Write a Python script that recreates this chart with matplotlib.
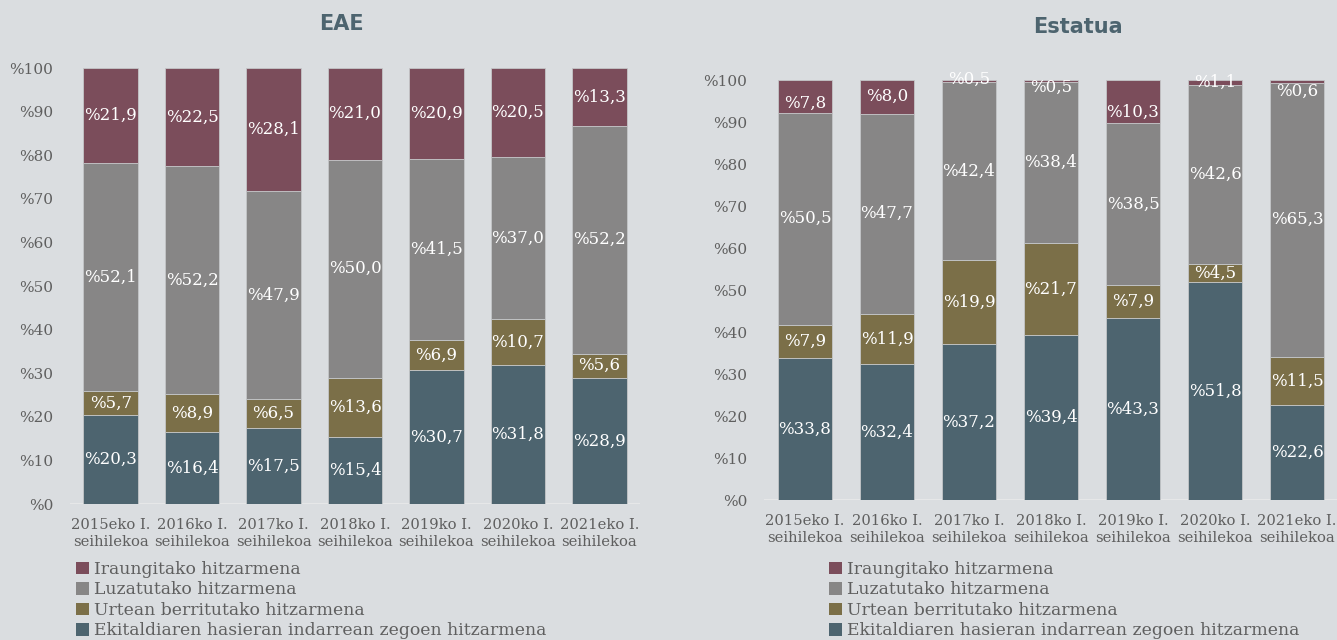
import matplotlib
matplotlib.use("Agg")
import matplotlib.pyplot as plt
import numpy as np

# ---- data ----
categories = ["2015eko I.\nseihilekoa", "2016ko I.\nseihilekoa", "2017ko I.\nseihilekoa",
              "2018ko I.\nseihilekoa", "2019ko I.\nseihilekoa", "2020ko I.\nseihilekoa",
              "2021eko I.\nseihilekoa"]
series_names = ["Ekitaldiaren hasieran indarrean zegoen hitzarmena",
                "Urtean berritutako hitzarmena",
                "Luzatutako hitzarmena",
                "Iraungitako hitzarmena"]

eae_ekitaldi = [20.3, 16.4, 17.5, 15.4, 30.7, 31.8, 28.9]
eae_urtean = [5.7, 8.9, 6.5, 13.6, 6.9, 10.7, 5.6]
eae_luzatu = [52.1, 52.2, 47.9, 50.0, 41.5, 37.0, 52.2]
eae_iraungi = [21.9, 22.5, 28.1, 21.0, 20.9, 20.5, 13.3]

est_ekitaldi = [33.8, 32.4, 37.2, 39.4, 43.3, 51.8, 22.6]
est_urtean = [7.9, 11.9, 19.9, 21.7, 7.9, 4.5, 11.5]
est_luzatu = [50.5, 47.7, 42.4, 38.4, 38.5, 42.6, 65.3]
est_iraungi = [7.8, 8.0, 0.5, 0.5, 10.3, 1.1, 0.6]

titles = ["EAE", "Estatua"]
yticks = list(range(0, 101, 10))

# label nudges (style only, in axis % units) for the top segment of Estatua
est_top_label_nudge = [-1.7, 0.0, 0.4, -1.6, -2.5, 0.0, -2.4]

# ---- style ----
BG = "#dadde0"
colors = ["#4d646f", "#7b6f48", "#878686", "#7b4d5b"]
TXT = "#5f5f5f"
TITLE_C = "#4d646f"
SERIF = ["DejaVu Serif"]

fig = plt.figure(figsize=(13.37, 6.40), dpi=100, facecolor=BG)

panels = [
    dict(rect=[70/1337, 136/640, 570/1337, 436/640], data=[eae_ekitaldi, eae_urtean, eae_luzatu, eae_iraungi],
         nudge=None, title_xy=(341/1337, 1 - 24/640), legend_xy=(76/1337, 1 - 561/640)),
    dict(rect=[764/1337, 140/640, 574/1337, 420/640], data=[est_ekitaldi, est_urtean, est_luzatu, est_iraungi],
         nudge=est_top_label_nudge, title_xy=(1078/1337, 1 - 27/640), legend_xy=(829/1337, 1 - 561/640)),
]

for p, title in zip(panels, titles):
    ax = fig.add_axes(p["rect"])
    ax.set_facecolor(BG)
    x = np.arange(len(categories))
    bottom = np.zeros(len(categories))
    handles = []
    nseries = len(p["data"])
    for si, (vals, col, name) in enumerate(zip(p["data"], colors, series_names)):
        vals = np.array(vals)
        b = ax.bar(x, vals, bottom=bottom, width=0.67, color=col, edgecolor="#c4c6c8",
                   linewidth=0.6, label=name, zorder=2)
        handles.append(b)
        for i, (xi, v, bt) in enumerate(zip(x, vals, bottom)):
            ypos = bt + v / 2
            if p["nudge"] is not None and si == nseries - 1:
                ypos += p["nudge"][i]
            ax.text(xi, ypos, "%" + f"{v:.1f}".replace(".", ","), ha="center", va="center",
                    color="white", fontsize=12, family=SERIF, zorder=3)
        bottom += vals
    ax.set_xlim(-0.5, len(categories) - 0.5)
    ax.set_ylim(0, 100)
    ax.set_yticks(yticks)
    ax.set_yticklabels(["%" + str(t) for t in yticks], family=SERIF, fontsize=11, color=TXT)
    ax.set_xticks(x)
    ax.set_xticklabels(categories, family=SERIF, fontsize=10.6, color=TXT, linespacing=1.25)
    ax.tick_params(axis="both", length=0)
    ax.tick_params(axis="y", pad=12)
    ax.tick_params(axis="x", pad=10)
    for s in ax.spines.values():
        s.set_visible(False)
    ax.axhline(0, color="#e8e9ea", lw=2, zorder=1)
    fig.text(p["title_xy"][0], p["title_xy"][1], title, ha="center", va="center",
             fontsize=15, fontweight="heavy", color=TITLE_C, family=["DejaVu Sans"])
    leg = fig.legend(handles[::-1], series_names[::-1], loc="upper left",
                     bbox_to_anchor=p["legend_xy"], frameon=False,
                     prop={"family": SERIF, "size": 12.4}, labelcolor=TXT,
                     handlelength=0.75, handleheight=0.75, handletextpad=0.3,
                     labelspacing=0.2, borderaxespad=0, borderpad=0)
    for h in leg.legend_handles:
        h.set_edgecolor("none")

fig.savefig("out.png", dpi=100, facecolor=BG)
